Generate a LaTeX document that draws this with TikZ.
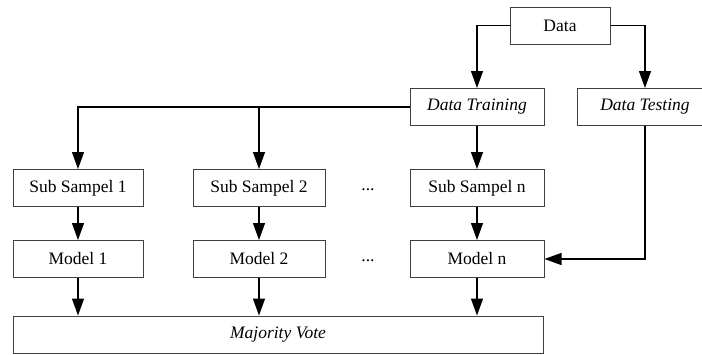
\documentclass[tikz,border=0pt]{standalone}
\usepackage{fontspec}
\setmainfont{Liberation Serif}
\usetikzlibrary{arrows.meta}
\begin{document}
\begin{tikzpicture}[x=1pt,y=-1pt,
  box/.style={draw=black!75, line width=1pt, minimum height=37pt, inner sep=0pt,
    font=\fontsize{17.5}{20}\selectfont},
  arr/.style={draw=black, line width=1.3pt, -{Triangle[length=17pt,width=12pt]}},
  dots/.style={font=\fontsize{17.5}{20}\selectfont, inner sep=0pt}]
  \clip (0,0) rectangle (702,354);
  \useasboundingbox (0,0) rectangle (702,354);

  % top level
  \node[box, minimum width=100pt] (data) at (560,25.5) {Data};
  \node[box, minimum width=134pt] (dtrain) at (477,107) {\itshape Data Training};
  \node[box, minimum width=136pt] (dtest) at (645,107) {\itshape Data Testing};

  % sub samples
  \node[box, minimum width=130pt] (ss1) at (78,188) {Sub Sampel 1};
  \node[box, minimum width=132pt] (ss2) at (259,188) {Sub Sampel 2};
  \node[box, minimum width=134pt] (ssn) at (477,188) {Sub Sampel n};
  \node[dots] (d1) at (368,190) {...};

  % models
  \node[box, minimum width=130pt] (m1) at (78,259) {Model 1};
  \node[box, minimum width=132pt] (m2) at (259,259) {Model 2};
  \node[box, minimum width=134pt] (mn) at (477,259) {Model n};
  \node[dots] (d2) at (368,261) {...};

  % voting
  \node[box, minimum width=530pt] (maj) at (278,334.5) {\itshape Majority Vote};

  % connectors
  \draw[arr] (data.west) -| (dtrain.north);
  \draw[arr] (data.east) -| (dtest.north);
  \draw[arr] (dtrain.west) -| (ss1.north);
  \draw[arr] (dtrain.west) -| (ss2.north);
  \draw[arr] (dtrain.south) -- (ssn.north);
  \draw[arr] (ss1.south) -- (m1.north);
  \draw[arr] (ss2.south) -- (m2.north);
  \draw[arr] (ssn.south) -- (mn.north);
  \draw[arr] (dtest.south) |- (mn.east);
  \draw[arr] (m1.south) -- (m1.south |- maj.north);
  \draw[arr] (m2.south) -- (m2.south |- maj.north);
  \draw[arr] (mn.south) -- (mn.south |- maj.north);
\end{tikzpicture}
\end{document}
